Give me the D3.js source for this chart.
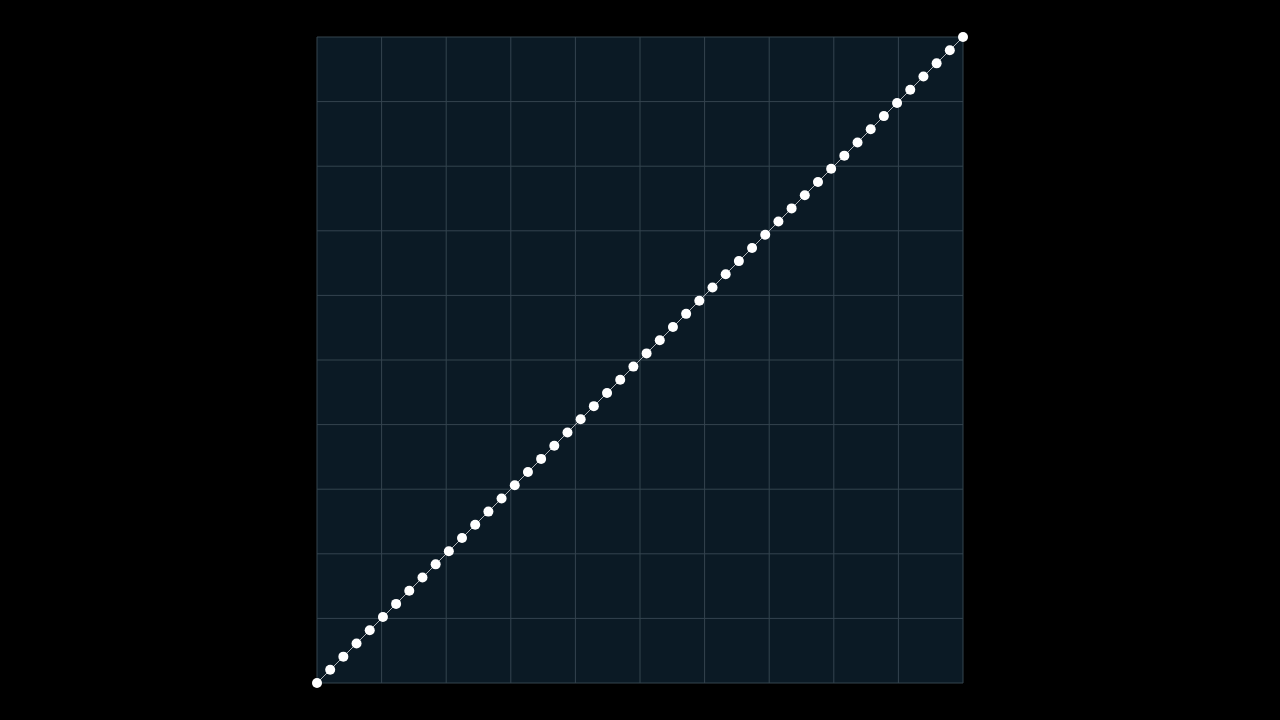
<!DOCTYPE html>
<meta charset="utf-8">
<script src="https://d3js.org/d3.v7.min.js"></script>
<style>
  body { margin: 0; background: #000; }
</style>
<div id="chart"></div>
<script>

// data: y = x, 50 points
var xValues = [0, 1, 2, 3, 4, 5, 6, 7, 8, 9, 10, 11, 12, 13, 14, 15, 16, 17, 18, 19, 20,
  21, 22, 23, 24, 25, 26, 27, 28, 29, 30, 31, 32, 33, 34, 35, 36, 37, 38, 39, 40,
  41, 42, 43, 44, 45, 46, 47, 48, 49];
var yValues = [0, 1, 2, 3, 4, 5, 6, 7, 8, 9, 10, 11, 12, 13, 14, 15, 16, 17, 18, 19, 20,
  21, 22, 23, 24, 25, 26, 27, 28, 29, 30, 31, 32, 33, 34, 35, 36, 37, 38, 39, 40,
  41, 42, 43, 44, 45, 46, 47, 48, 49];
var gridTicks = [0, 4.9, 9.8, 14.7, 19.6, 24.5, 29.4, 34.3, 39.2, 44.1, 49];

var data = xValues.map(function(d, i) { return {x: d, y: yValues[i]}; });

var margin = {top: 37, left: 317},
    width = 646,
    height = 646;

var svg = d3.select("#chart")
  .append("svg")
    .attr("width", 1280)
    .attr("height", 720)
  .append("g")
    .attr("transform", "translate(" + margin.left + "," + margin.top + ")");

var x = d3.scaleLinear().domain([0, 49]).range([0, width]);
var y = d3.scaleLinear().domain([0, 49]).range([height, 0]);

// plot background
svg.append("rect")
  .attr("width", width)
  .attr("height", height)
  .attr("fill", "#0b1a25");

// grid
svg.append("g")
  .selectAll("line")
  .data(gridTicks)
  .enter().append("line")
    .attr("x1", function(d) { return x(d); })
    .attr("x2", function(d) { return x(d); })
    .attr("y1", 0)
    .attr("y2", height)
    .attr("stroke", "#34444f")
    .attr("stroke-width", 1);

svg.append("g")
  .selectAll("line")
  .data(gridTicks)
  .enter().append("line")
    .attr("x1", 0)
    .attr("x2", width)
    .attr("y1", function(d) { return y(d); })
    .attr("y2", function(d) { return y(d); })
    .attr("stroke", "#34444f")
    .attr("stroke-width", 1);

// line
svg.append("path")
  .datum(data)
  .attr("fill", "none")
  .attr("stroke", "#b0b4b8")
  .attr("stroke-width", 1)
  .attr("d", d3.line()
    .x(function(d) { return x(d.x); })
    .y(function(d) { return y(d.y); }));

// points
svg.selectAll("circle")
  .data(data)
  .enter().append("circle")
    .attr("cx", function(d) { return x(d.x); })
    .attr("cy", function(d) { return y(d.y); })
    .attr("r", 5)
    .attr("fill", "#ffffff");

</script>
